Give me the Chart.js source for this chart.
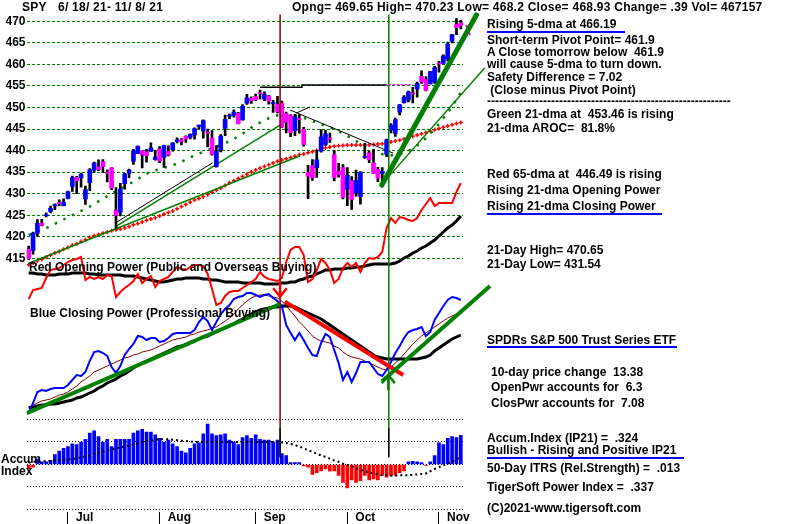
<!DOCTYPE html>
<html><head><meta charset="utf-8">
<script src="https://cdn.jsdelivr.net/npm/chart.js@4/dist/chart.umd.min.js"></script>
<style>
html,body{margin:0;padding:0;background:#fff;}
#wrap{position:relative;width:800px;height:524px;overflow:hidden;background:#fff;}
canvas{position:absolute;left:0;top:0;}
.t{position:absolute;font-family:"Liberation Sans",Arial,sans-serif;font-weight:bold;font-size:12px;line-height:14px;color:#000;white-space:pre;}
.h{letter-spacing:0.25px;}
.u{position:absolute;height:2px;background:#0000ff;}
</style></head><body>
<div id="wrap">
<canvas id="c" width="800" height="524"></canvas>
<div class="t h" style="left:22px;top:0px">SPY</div>
<div class="t h" style="left:58px;top:0px">6/ 18/ 21- 11/ 8/ 21</div>
<div class="t h" style="left:292px;top:0px">Opng= 469.65 High= 470.23 Low= 468.2 Close= 468.93 Change= .39 Vol= 467157</div>

<div class="t" style="left:487px;top:17px">Rising 5-dma at 466.19</div>
<div class="u" style="left:487px;top:31px;width:138px"></div>
<div class="t" style="left:487px;top:33px">Short-term Pivot Point= 461.9</div>
<div class="t" style="left:487px;top:45px">A Close tomorrow below  461.9</div>
<div class="t" style="left:487px;top:57px">will cause 5-dma to turn down.</div>
<div class="t" style="left:487px;top:70px">Safety Difference = 7.02</div>
<div class="t" style="left:487px;top:83px"> (Close minus Pivot Point)</div>
<div class="t" style="left:487px;top:94px">-------------------------------------------------------------</div>
<div class="t" style="left:487px;top:107px">Green 21-dma at  453.46 is rising</div>
<div class="t" style="left:487px;top:121px">21-dma AROC=  81.8%</div>
<div class="t" style="left:487px;top:167px">Red 65-dma at  446.49 is rising</div>
<div class="t" style="left:487px;top:183px">Rising 21-dma Opening Power</div>
<div class="t" style="left:487px;top:199px">Rising 21-dma Closing Power</div>
<div class="u" style="left:487px;top:213px;width:175px"></div>
<div class="t" style="left:487px;top:243px">21-Day High= 470.65</div>
<div class="t" style="left:487px;top:257px">21-Day Low= 431.54</div>
<div class="t" style="left:487px;top:333px">SPDRs S&amp;P 500 Trust Series ETF</div>
<div class="u" style="left:487px;top:346px;width:190px"></div>
<div class="t" style="left:491px;top:365px">10-day price change  13.38</div>
<div class="t" style="left:491px;top:380px">OpenPwr accounts for  6.3</div>
<div class="t" style="left:491px;top:396px">ClosPwr accounts for  7.08</div>
<div class="t" style="left:487px;top:431px">Accum.Index (IP21) =  .324</div>
<div class="t" style="left:487px;top:443px">Bullish - Rising and Positive IP21</div>
<div class="u" style="left:487px;top:457px;width:197px"></div>
<div class="t" style="left:487px;top:461px">50-Day ITRS (Rel.Strength) =  .013</div>
<div class="t" style="left:487px;top:480px">TigerSoft Power Index =  .337</div>
<div class="t" style="left:487px;top:501px">(C)2021-www.tigersoft.com</div>

<div class="t" style="left:29px;top:260px">Red Opening Power (Public and Overseas Buying)</div>
<div class="t" style="left:30px;top:306px">Blue Closing Power (Professional Buying)</div>
<div class="t" style="left:1px;top:452px">Accum</div>
<div class="t" style="left:1px;top:464px">Index</div>
</div>
<script>
// ---------- data ----------
const dates = ['6/18','6/21','6/22','6/23','6/24','6/25','6/28','6/29','6/30',
'7/1','7/2','7/6','7/7','7/8','7/9','7/12','7/13','7/14','7/15','7/16','7/19','7/20','7/21','7/22','7/23','7/26','7/27','7/28','7/29','7/30',
'8/2','8/3','8/4','8/5','8/6','8/9','8/10','8/11','8/12','8/13','8/16','8/17','8/18','8/19','8/20','8/23','8/24','8/25','8/26','8/27','8/30','8/31',
'9/1','9/2','9/3','9/7','9/8','9/9','9/10','9/13','9/14','9/15','9/16','9/17','9/20','9/21','9/22','9/23','9/24','9/27','9/28','9/29','9/30',
'10/1','10/4','10/5','10/6','10/7','10/8','10/11','10/12','10/13','10/14','10/15','10/18','10/19','10/20','10/21','10/22','10/25','10/26','10/27','10/28','10/29',
'11/1','11/2','11/3','11/4','11/5','11/8'];

const opens = [417.09,416.80,420.85,423.19,424.89,425.90,427.17,427.88,427.21,
428.87,431.67,433.78,433.66,428.78,432.53,435.43,436.24,437.40,434.81,436.01,426.19,425.68,432.34,434.74,437.52,439.31,439.91,439.68,439.82,437.91,
440.34,438.44,439.78,440.22,442.10,442.46,443.30,443.02,443.62,445.59,444.53,444.24,442.96,436.27,440.23,445.16,447.97,448.17,448.61,447.12,450.97,452.13,
452.56,453.32,451.98,452.71,450.89,450.70,451.04,448.64,448.12,444.62,447.32,444.92,434.88,436.53,436.05,439.85,441.44,442.81,439.09,435.19,436.02,
430.98,433.00,430.24,429.27,438.39,439.48,437.16,435.67,434.71,439.08,444.75,443.97,448.92,451.13,451.77,453.13,454.28,457.20,456.45,455.46,455.87,
460.30,460.22,461.30,465.36,469.28,469.65];
const highs = [417.83,421.06,424.00,424.05,425.55,427.09,427.65,428.56,428.78,
430.60,434.10,434.01,434.76,431.73,435.84,437.35,437.84,437.92,435.53,436.06,431.41,432.42,434.70,435.72,440.30,441.03,439.94,440.30,441.80,440.06,
440.93,441.28,441.12,441.85,442.94,442.80,443.44,443.88,445.26,445.94,447.11,444.96,444.63,441.14,443.71,448.23,448.54,449.46,448.86,450.65,453.07,452.49,
453.11,454.05,453.63,452.81,451.67,452.57,451.49,448.92,448.34,448.41,448.36,445.37,436.56,437.91,440.03,444.89,444.67,444.05,440.04,437.04,436.77,
436.03,433.96,435.49,435.12,441.68,439.89,440.26,436.10,436.05,442.66,446.26,447.55,450.71,452.73,453.83,454.67,455.90,458.49,457.16,458.40,459.56,
460.70,462.23,465.15,467.00,470.65,470.23];
const lows = [414.70,415.93,420.08,422.51,424.62,425.55,426.30,427.13,427.18,
428.80,430.52,430.01,431.51,427.52,430.71,434.97,435.31,434.91,432.72,430.92,421.97,424.83,431.01,433.69,436.79,439.26,435.99,437.31,439.81,437.77,
437.21,436.10,438.73,439.88,441.80,441.31,441.88,442.71,442.66,445.07,442.87,440.85,438.92,436.12,439.71,443.44,447.42,447.77,446.16,447.06,450.71,450.92,
451.55,451.91,451.55,450.74,448.86,448.72,445.31,444.11,443.22,443.44,444.02,441.02,428.86,433.07,433.75,439.60,441.21,441.90,432.94,433.85,428.78,
427.23,426.36,429.39,427.54,438.20,437.19,434.62,432.78,431.54,438.58,444.09,443.27,448.27,451.01,451.31,451.05,452.39,455.56,453.86,455.45,455.56,
458.20,460.08,460.83,464.99,466.92,468.20];
const closes = [414.92,420.86,423.11,422.60,425.10,426.61,427.47,427.70,428.06,
430.43,433.72,432.93,434.46,430.92,435.52,437.08,435.59,436.24,434.75,431.34,424.97,431.06,434.55,435.46,439.94,441.02,439.01,438.83,440.65,438.51,
437.59,441.15,438.98,441.76,442.49,442.13,442.68,443.78,445.11,445.92,446.97,444.04,439.18,439.86,443.36,447.26,447.97,448.91,446.26,450.25,452.23,451.56,
451.80,453.19,453.08,451.46,450.91,448.98,445.44,446.58,444.17,447.88,447.17,441.40,434.04,433.63,437.86,443.18,443.91,442.64,433.72,434.45,429.14,
434.24,428.64,433.10,434.90,438.66,437.86,434.69,433.62,435.18,442.50,445.87,447.19,450.64,452.41,453.59,453.12,455.55,455.96,453.94,458.32,459.25,
460.04,461.90,464.72,466.91,468.53,468.93];

const dma21 = [420.4,420.8,421.2,421.6,422.0,422.5,423.0,423.5,424.0,424.5,
425.0,425.5,426.0,426.5,427.0,427.6,428.2,428.8,429.4,430.0,
430.6,431.1,431.6,432.2,432.8,433.4,434.0,434.6,435.1,435.4,
435.7,436.0,436.3,436.6,437.0,437.4,437.9,438.4,438.9,439.3,
439.7,440.1,440.5,440.9,441.3,441.7,442.2,442.7,443.3,443.9,
444.6,445.3,446.0,446.5,447.0,447.5,447.9,448.2,448.4,448.4,
448.3,448.1,447.9,447.6,447.2,446.8,446.5,446.1,445.8,445.4,
445.0,444.5,444.0,443.4,442.8,442.2,441.6,441.0,440.4,439.9,
439.5,439.2,439.0,438.9,438.9,439.1,439.4,439.9,440.5,441.2,
442.0,442.9,443.9,445.0,446.2,447.5,448.8,450.2,451.8,453.5];
const dma65 = [413.5,413.9,414.4,414.8,415.3,415.7,416.2,416.6,417.1,417.5,
418.0,418.4,418.9,419.3,419.8,420.2,420.5,420.8,421.1,421.4,
421.6,421.8,422.0,422.4,422.8,423.1,423.4,423.8,424.1,424.4,
424.8,425.2,425.6,426.0,426.5,427.0,427.5,428.0,428.5,428.9,
429.3,429.8,430.3,430.8,431.3,431.9,432.5,433.0,433.5,434.0,
434.5,435.0,435.5,435.9,436.3,436.7,437.1,437.5,437.8,438.1,
438.4,438.7,439.0,439.2,439.5,439.7,440.0,440.3,440.6,440.8,
441.0,441.1,441.2,441.3,441.3,441.3,441.3,441.3,441.3,441.4,
441.5,441.6,441.8,442.0,442.2,442.4,442.7,443.0,443.3,443.6,
443.9,444.2,444.5,444.8,445.1,445.4,445.7,446.0,446.3,446.5];

// Opening / Closing Power (arbitrary units)
const openPower = [50.5,55,55.5,56,61,65,65.5,66,67.5,69,
70,70.5,71.5,60,61.5,60.5,61.5,60.5,62.5,62,
51.5,54,56,57.5,59.5,63,58.5,60.5,62,56.5,
59.5,60.5,61.5,64,66.5,65.5,65,66.5,67.5,67.5,
67,63,55.5,47.5,48.5,52,54,54.5,54.5,56,
57.5,59,60.5,64,61.5,60.5,60,59.5,61,69,
75,76.5,76.5,72.5,59,60.5,65,70.5,68.5,65,
58.5,60.5,66,68.5,66.5,68.5,64,68.5,71,70.5,
71.5,74,86,91,88.5,91.5,91,90,89.5,91,
95,98,101,97,98.5,98.5,98.5,98.5,104,108.5];
const openPowerMA = [63.5,63.5,63,63,62.5,62.5,62.5,63,63,63,
63.5,63.5,63.5,63.5,63,63,62.5,62.5,62.5,62.5,
62.5,62.5,62,62,62,61.5,61,60.5,60,59.5,
59,59,59.5,60,60.5,60.5,61,61,61,61,
60.5,60.5,60,60,59.5,59,59,59,59,58.5,
58.5,58.5,58.5,58.5,58,58,58,58,58.5,58.5,
59,59,60,60.5,61.5,62,63,64,65,65,
65.5,65.5,65.5,66,66,66.5,66.5,67,67.5,68,
68,68,68,68,68.5,69.5,71,72,73.5,74.5,
76,77,78.5,80,82,84,86,87.5,89.5,92];
const closePower = [-6.5,-1.5,4,5,4.5,5.5,6,6,6,7.5,
10,12.5,12,14,19.5,24,24.5,23.5,22,16.5,
13.5,17,22.5,25.5,28,32,31.5,30,31,31,
29,29.5,31,33,33.5,33.5,33.5,33.5,35,39,
41.5,39.5,35,39,43,45.5,47.5,50.5,51.5,52,
53.5,53.5,52.5,51.5,52.5,53,51,49.5,47,37.5,
33.5,30,33.5,30,26,22.5,22,28.5,33,31.5,
25,18.5,10,14,9,13.5,19,19,19,16,
13,12,15,19,23.5,27,31,34,35,35.5,
36.5,32,34,40,43.5,47,50,51.5,51,50];
const closePowerMA = [-4,-3.5,-3,-2.5,-2.5,-2,-2,-1.5,-1,-0.5,
0,1,1.5,2.5,3.5,4.5,6,7,8.5,9.5,
10.5,12,13,14.5,16,17.5,18.5,19.5,20.5,21.5,
22.5,23.5,24.5,25.5,26.5,27,27.5,28.5,29.5,30.5,
31.5,32,33,34,35,36,37,38,39.5,40.5,
42,43,44,45,45.5,46,46.5,46.5,47,47,
47,46.5,45.5,44.5,43.5,42.5,41.5,40.5,39,37.5,
36,34.5,33,31.5,30,28.5,27,25.5,24,22.5,
21.5,21,20.5,20.5,20.5,20.5,20.5,20.5,20.5,20.5,
21,21.5,22.5,24.5,26,27.5,29,30.5,31.5,32.5];
const closePowerMA10 = [-3.5,-2.5,-1.5,-0.5,0,0.5,1.5,2.5,3,4,
5.5,7,9,10.5,12,14,15,16,17,18,
19,20,21,21.5,22.5,23,24,24.5,25,26,
27,28,29,30,30.5,31,31.5,32.5,33,34,
34.5,35,36,36.5,38,39.5,41,43,45.5,47.5,
49.5,51,52,52.5,52.5,52,51.5,51,49.5,47,
44.5,42,39,37,34.5,32,30.5,29.5,29,28.5,
27,26,24,22.5,21.5,21,20.5,19.5,18.5,17.5,
16.5,15.5,15,16.5,18.5,20.5,23,25.5,28,30,
32,33.5,35,36.5,38,39.5,41,42,43,43.5];

const accumIndex = [-0.05,-0.03,0.06,0.03,0.03,0.045,0.11,0.15,0.18,0.2,
0.23,0.22,0.25,0.28,0.35,0.375,0.31,0.25,0.28,0.2,
0.28,0.28,0.28,0.28,0.35,0.375,0.39,0.36,0.36,0.33,
0.29,0.25,0.27,0.23,0.2,0.15,0.13,0.18,0.23,0.24,
0.34,0.45,0.34,0.32,0.33,0.34,0.27,0.25,0.22,0.3,
0.32,0.29,0.33,0.28,0.27,0.27,0.25,0.27,0.12,0.1,
0.02,0.02,0.02,-0.015,-0.03,-0.11,-0.09,-0.07,-0.05,-0.075,
-0.07,-0.12,-0.2,-0.26,-0.17,-0.2,-0.18,-0.12,-0.17,-0.16,
-0.17,-0.12,-0.14,-0.12,-0.12,-0.09,-0.07,0.03,0.035,0.03,
0.02,-0.01,0.03,0.1,0.24,0.22,0.29,0.31,0.3,0.324];
const accumMA = [0.02,0.03,0.03,0.035,0.04,0.04,0.045,0.05,0.05,0.055,
0.06,0.07,0.08,0.09,0.1,0.115,0.13,0.14,0.155,0.165,
0.18,0.19,0.2,0.21,0.22,0.235,0.25,0.26,0.27,0.275,
0.28,0.28,0.28,0.275,0.27,0.265,0.26,0.255,0.25,0.25,
0.25,0.25,0.25,0.25,0.25,0.25,0.25,0.25,0.25,0.25,
0.25,0.25,0.25,0.25,0.25,0.25,0.25,0.25,0.245,0.24,
0.23,0.215,0.2,0.18,0.16,0.14,0.12,0.1,0.085,0.065,
0.045,0.03,0.01,-0.005,-0.02,-0.04,-0.06,-0.075,-0.09,-0.1,
-0.11,-0.12,-0.12,-0.125,-0.125,-0.12,-0.12,-0.12,-0.115,-0.11,
-0.105,-0.1,-0.075,-0.05,-0.03,-0.01,0.01,0.03,0.06,0.08];

const priceTicks = [415,420,425,430,435,440,445,450,455,460,465,470];
const accumTicks = [-0.5,-0.25,0,0.25,0.5];
const accumTickLabels = ['-.50','-.25','','+.25','+.50'];
const monthStarts = [9,30,52,73,94];
const monthNames = ['Jul','Aug','Sep','Oct','Nov'];

// trend lines: [day index, value]
const trendLongGreen = [[-0.1,413.8],[62.2,438.8]];
const trendUpGreen = [[20.2,422.5],[58.7,446.6]];
const trendUpBlack = [[20.2,423.4],[42.2,437.2]];
const trendDownBlack = [[59.9,449.4],[83.5,439.4]];
const trendShortBlack = [[61.3,448.7],[64.4,450.1]];
const resistanceLine = [[53,454.7],[62.6,454.7],[62.6,455.2],[82,455.2]];
const pivotLine = [[82.5,455.3],[87.5,455.3]];
const steepGreen = [[80.9,432.0],[102.6,471.5]];
const thinGreen = [[81.2,432.5],[104.5,459.2]];
const projection = [[100.2,469.1],[101.1,466.8],[101.8,458.0],[102.7,463.3],[103.4,464.3],[105.0,461.9]];
const cpUpTrend = [[-0.45,-6.6],[57.6,48]];
const cpDownTrend = [[58.7,49.2],[85.8,12.5]];
const cpNewUpTrend = [[80.9,9.2],[105.7,57]];
const sellArrow = [[56.0,55.9],[57.6,51.7],[59.1,55.9]];
const sellArrowStem = [[57.6,59.2],[57.6,51.7]];
const buyArrow = [[80.9,8.4],[82.4,12.5],[83.9,8.4]];
const buyArrowStem = [[82.4,12.5],[82.4,5]];
const sellDay = 57.6, buyDay = 82.5;

// ---------- chart ----------
const xy = a => a.map(([x,y]) => ({x, y}));
const series = a => a.map((y,i) => ({x:i, y}));
const FONT = {family:'"Liberation Sans", Arial, sans-serif', weight:'bold', size:12};

function line(data, axis, color, width, order, extra) {
  return Object.assign({type:'line', data, yAxisID:axis, borderColor:color, backgroundColor:color,
    borderWidth:width, pointRadius:0, tension:0, fill:false, order}, extra || {});
}

const datasets = [
  line(xy(steepGreen),'y','#008000',5,1,{clip:false, borderCapStyle:'round'}),
  line(xy(thinGreen),'y','#008000',1.5,2,{clip:false}),
  line(xy(projection),'y','#ff00ff',2,2,{clip:false}),
  line(xy(cpNewUpTrend),'yP','#008000',4,1,{clip:false}),
  line(xy(cpUpTrend),'yP','#008000',4,1),
  line(xy(cpDownTrend),'yP','#ff0000',4,1),
  line(xy(sellArrow),'yP','#ff0000',2.5,1),
  line(xy(sellArrowStem),'yP','#ff0000',2.5,1),
  line(xy(buyArrow),'yP','#008000',2.5,1),
  line(xy(buyArrowStem),'yP','#008000',2.5,1),
  line(xy(pivotLine),'y','#ff00ff',1.5,3,{borderDash:[2,2]}),
  line([{x:sellDay,y:5.0},{x:sellDay,y:0.41}],'yA','#800000',1.5,5),
  line([{x:sellDay,y:0.41},{x:sellDay,y:0.08}],'yA','#000000',1,5),
  line([{x:buyDay,y:5.0},{x:buyDay,y:0.41}],'yA','#008000',1.5,5),
  line([{x:buyDay,y:0.41},{x:buyDay,y:0.08}],'yA','#000000',1,5),
  {type:'bar', data: closes.map((c,i)=>({x:i, y:[opens[i], c]})), yAxisID:'y',
   backgroundColor: closes.map((c,i)=> c >= opens[i] ? '#0000ff' : '#ff00ff'),
   barThickness:4, grouped:false, minBarLength:1, order:10},
  {type:'bar', data: highs.map((h,i)=>({x:i, y:[lows[i], h]})), yAxisID:'y',
   backgroundColor:'#000000', barThickness:2, grouped:false, order:11},
  line(xy(trendUpBlack),'y','#000000',1,12),
  line(xy(trendDownBlack),'y','#000000',1,12),
  line(xy(trendShortBlack),'y','#000000',1,12),
  line(xy(resistanceLine),'y','#000000',1.5,12),
  line(xy(trendLongGreen),'y','#008000',1.5,13),
  line(xy(trendUpGreen),'y','#008000',1.5,13),
  line(series(dma21),'y','#008000',2.5,14,{borderDash:[2.5,7]}),
  line(series(dma65),'y','#ff0000',0,15,{showLine:false, pointStyle:'cross', pointRadius:2, pointBorderWidth:1.5, pointBorderColor:'#ff0000'}),
  line(series(closePower),'yP','#0000ff',2,16),
  line(series(closePowerMA),'yP','#000000',3,17),
  line(series(closePowerMA10),'yP','#800000',1,18),
  line(series(openPower),'yP','#ff0000',2,19),
  line(series(openPowerMA),'yP','#000000',3,20),
  {type:'bar', data: series(accumIndex), yAxisID:'yA',
   backgroundColor: accumIndex.map(v => v >= 0 ? '#0000ff' : '#ff0000'),
   barThickness:3, grouped:false, order:30},
  line(series(accumMA),'yA','#000000',2,29,{borderDash:[2,3]})
];

new Chart(document.getElementById('c'), {
  type:'bar',
  data:{datasets},
  options:{
    responsive:false, animation:false, devicePixelRatio:1,
    layout:{padding:{left:0, right:337, top:14, bottom:0}},
    plugins:{legend:{display:false}, tooltip:{enabled:false}},
    scales:{
      x:{type:'linear', position:'bottom', min:-0.5, max:99.5, offset:false,
        afterFit:s=>{s.height=12;},
        afterBuildTicks:s=>{s.ticks = monthStarts.map(v=>({value:v}));},
        ticks:{autoSkip:false, maxRotation:0, minRotation:0, align:'start', labelOffset:8, padding:-14,
          color:'#000', font:FONT, callback:v=>{const k=monthStarts.indexOf(v); return k>=0?monthNames[k]:'';}},
        grid:{drawOnChartArea:false, drawTicks:true, tickLength:12, color:'#000', lineWidth:1, offset:false},
        border:{display:false}},
      y:{type:'linear', position:'left', weight:1, min:356.12, max:471.69,
        afterFit:s=>{s.width=26.5;},
        afterBuildTicks:s=>{s.ticks = priceTicks.map(v=>({value:v}));},
        ticks:{padding:1, color:'#000', font:FONT, callback:v=>String(v)},
        grid:{color:'#008000', lineWidth:1, drawTicks:false},
        border:{display:false, dash:[3,2]}},
      yA:{type:'linear', position:'left', weight:0, min:-0.5278, max:5.0056,
        afterFit:s=>{s.width=0;},
        afterBuildTicks:s=>{s.ticks = accumTicks.map(v=>({value:v}));},
        ticks:{padding:1, color:'#000', font:FONT, callback:v=>{const k=accumTicks.indexOf(v); return k>=0?accumTickLabels[k]:'';}},
        grid:{color:'#000', lineWidth:1, drawTicks:false},
        border:{display:false, dash:[1,2]}},
      yP:{type:'linear', display:false, min:-56, max:193}
    }
  }
});
</script>
</body></html>
